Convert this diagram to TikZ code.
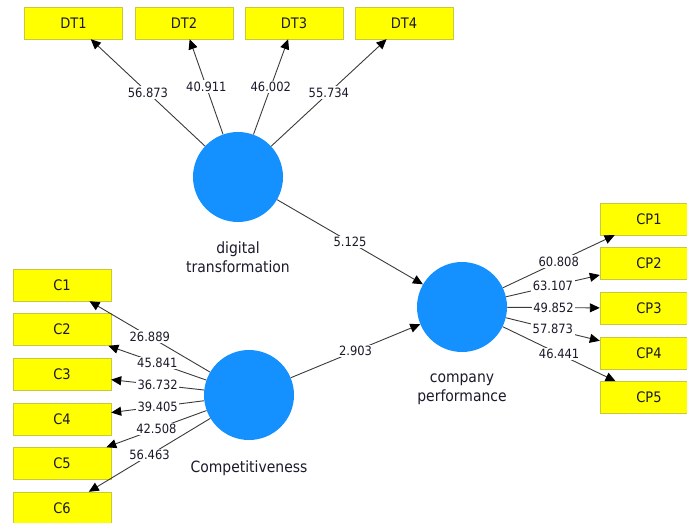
\documentclass[tikz,border=0pt]{standalone}
\usepackage{fontspec}
\setmainfont{DejaVu Sans Condensed}
\usetikzlibrary{arrows.meta,positioning}
\definecolor{IndAmarillo}{HTML}{FFFF00}
\definecolor{IndBorde}{HTML}{C8C83C}
\definecolor{ConAzul}{HTML}{1591FF}
\definecolor{LineaGris}{HTML}{3A3A3A}
\definecolor{TextoOscuro}{HTML}{1A1A2A}
\tikzset{
  indic/.style   = {draw=IndBorde, fill=IndAmarillo, minimum width=98pt,
                    minimum height=32pt, inner sep=0pt, text=TextoOscuro,
                    font=\fontsize{14.5}{16}\selectfont},
  constr/.style  = {circle, fill=ConAzul, minimum size=90pt, inner sep=0pt},
  rotulo/.style  = {align=center, inner sep=0pt, text=TextoOscuro,
                    font=\fontsize{15.5}{19}\selectfont},
  flecha/.style  = {-{Triangle[length=10pt,width=9pt,color=black]},
                    line width=0.9pt, draw=LineaGris},
  coef/.style    = {font=\fontsize{12.8}{14}\selectfont, text=TextoOscuro,
                    fill=white, inner sep=1.5pt},
}
\begin{document}
\begin{tikzpicture}[x=1pt,y=-1pt]
  \useasboundingbox (0,0) rectangle (687,522);
  % constructos
  \node[constr] (dt) at (238,177) {};
  \node[constr] (co) at (249,395) {};
  \node[constr] (cp) at (462,307) {};
  \node[rotulo, below=19pt of dt] (dtlbl) {digital\\transformation};
  \node[rotulo, below=20pt of co] (colbl) {Competitiveness};
  \node[rotulo, below=21pt of cp] (cplbl) {company\\performance};
  % indicadores
  \node[indic] (dt1) at (73.5,23) {DT1};
  \node[indic] (dt2) at (184,23)  {DT2};
  \node[indic] (dt3) at (294,23)  {DT3};
  \node[indic] (dt4) at (404,23)  {DT4};
  \node[indic] (c1) at (62,285)   {C1};
  \node[indic] (c2) at (62,329.6) {C2};
  \node[indic] (c3) at (62,374.2) {C3};
  \node[indic] (c4) at (62,418.8) {C4};
  \node[indic] (c5) at (62,463.4) {C5};
  \node[indic] (c6) at (62,508)   {C6};
  \node[indic] (cp1) at (649,219)   {CP1};
  \node[indic] (cp2) at (649,263.6) {CP2};
  \node[indic] (cp3) at (649,308.2) {CP3};
  \node[indic] (cp4) at (649,352.8) {CP4};
  \node[indic] (cp5) at (649,397.4) {CP5};
  % cargas
  \draw[flecha] (dt) -- node[coef] {56.873} (dt1);
  \draw[flecha] (dt) -- node[coef] {40.911} (dt2);
  \draw[flecha] (dt) -- node[coef] {46.002} (dt3);
  \draw[flecha] (dt) -- node[coef] {55.734} (dt4);
  \draw[flecha] (co) -- node[coef] {26.889} (c1);
  \draw[flecha] (co) -- node[coef] {45.841} (c2);
  \draw[flecha] (co) -- node[coef] {36.732} (c3);
  \draw[flecha] (co) -- node[coef] {39.405} (c4);
  \draw[flecha] (co) -- node[coef] {42.508} (c5);
  \draw[flecha] (co) -- node[coef] {56.463} (c6);
  \draw[flecha] (cp) -- node[coef] {60.808} (cp1);
  \draw[flecha] (cp) -- node[coef] {63.107} (cp2);
  \draw[flecha] (cp) -- node[coef] {49.852} (cp3);
  \draw[flecha] (cp) -- node[coef] {57.873} (cp4);
  \draw[flecha] (cp) -- node[coef] {46.441} (cp5);
  % modelo estructural
  \draw[flecha] (dt) -- node[coef] {5.125} (cp);
  \draw[flecha] (co) -- node[coef] {2.903} (cp);
\end{tikzpicture}
\end{document}
